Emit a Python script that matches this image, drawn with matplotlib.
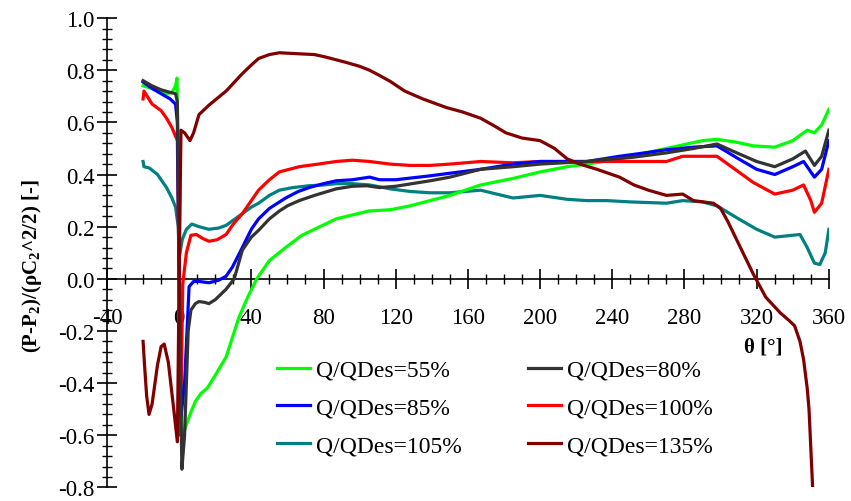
import numpy as np
import matplotlib
matplotlib.use("Agg")
import matplotlib.pyplot as plt
from matplotlib.ticker import MultipleLocator, FormatStrFormatter

plt.rcParams['font.family'] = ['Liberation Serif', 'DejaVu Serif']
plt.rcParams['axes.unicode_minus'] = False
plt.rcParams['mathtext.fontset'] = 'custom'
plt.rcParams['mathtext.rm'] = 'Liberation Serif:bold'
plt.rcParams['mathtext.bf'] = 'Liberation Serif:bold'
plt.rcParams['mathtext.it'] = 'Liberation Serif:bold'

# Q/QDes = 55%
th_55 = [-20, -15, -10, -7, -4, -2, -1.2, 1.5, 3, 6, 9, 12, 15.5, 20, 26, 33, 38, 43, 50, 59,
         68, 78, 87, 96, 105, 117, 128, 139, 150, 167, 185, 200, 215, 226, 244, 260, 270, 280,
         290, 298, 308, 318, 330, 340, 348, 352, 356, 360]
cp_55 = [0.74, 0.73, 0.72, 0.71, 0.715, 0.74, 0.77, -0.6, -0.58, -0.52, -0.47, -0.44, -0.42,
         -0.37, -0.30, -0.15, -0.07, 0.0, 0.07, 0.12, 0.167, 0.20, 0.23, 0.245, 0.26, 0.265,
         0.28, 0.30, 0.32, 0.36, 0.385, 0.41, 0.43, 0.44, 0.46, 0.485, 0.50, 0.515, 0.53, 0.535,
         0.525, 0.51, 0.505, 0.53, 0.57, 0.56, 0.59, 0.65]

# Q/QDes = 80%
th_80 = [-20, -15, -10, -5, -2, -1, 0, 1.5, 3, 5, 6.5, 9, 11, 14, 16.5, 20, 26, 30.5, 35, 40,
         44, 50, 55.5, 60, 66.5, 75, 87, 96, 104, 111, 120, 139, 150, 167, 185, 200, 226, 233,
         250, 270, 285, 298, 310, 320, 330, 340, 347, 352, 356, 360]
cp_80 = [0.76, 0.74, 0.725, 0.715, 0.71, 0.68, 0.0, -0.73, -0.6, -0.2, -0.12, -0.095, -0.087,
         -0.09, -0.095, -0.08, -0.04, 0.0, 0.11, 0.16, 0.186, 0.23, 0.26, 0.28, 0.30, 0.32,
         0.345, 0.355, 0.357, 0.35, 0.355, 0.376, 0.39, 0.42, 0.43, 0.44, 0.45, 0.456, 0.465,
         0.483, 0.50, 0.517, 0.48, 0.45, 0.43, 0.46, 0.49, 0.435, 0.47, 0.57]

# Q/QDes = 85%
th_85 = [-20, -15, -10, -5, -2, -1, 0, 1, 3, 5.5, 8, 11, 16.5, 22, 26, 29.5, 35, 40, 44, 50,
         59, 66, 72, 80, 87, 96, 105.5, 111, 120, 139, 150, 167, 185, 200, 226, 244, 260, 270,
         285, 298, 310, 320, 330, 340, 346, 352, 356, 360]
cp_85 = [0.755, 0.73, 0.71, 0.69, 0.67, 0.60, 0.0, -0.53, -0.4, -0.03, -0.01, -0.01, -0.015,
         -0.005, 0.01, 0.045, 0.12, 0.19, 0.23, 0.27, 0.31, 0.335, 0.35, 0.365, 0.376, 0.38,
         0.39, 0.38, 0.38, 0.395, 0.405, 0.42, 0.44, 0.45, 0.45, 0.47, 0.485, 0.495, 0.505,
         0.51, 0.46, 0.42, 0.40, 0.43, 0.45, 0.39, 0.42, 0.53]

# Q/QDes = 100%
th_100 = [-20, -19.5, -15, -10, -7, -4, -1, 0, 0.7, 2, 4, 6.5, 9.5, 13, 16.5, 21, 26, 30, 35,
          40, 44, 50, 55.5, 66.5, 77, 87, 96, 105.5, 117, 128, 139, 150, 167, 185, 200, 215,
          226, 244, 260, 270, 279, 290, 298, 308, 318, 330, 340, 346, 350, 352, 356, 360]
cp_100 = [0.69, 0.72, 0.67, 0.645, 0.616, 0.58, 0.53, 0.0, -0.6, -0.02, 0.1, 0.167, 0.17,
          0.155, 0.144, 0.15, 0.17, 0.21, 0.25, 0.30, 0.34, 0.38, 0.41, 0.43, 0.44, 0.45,
          0.455, 0.45, 0.44, 0.435, 0.435, 0.44, 0.45, 0.445, 0.45, 0.45, 0.45, 0.45, 0.45,
          0.45, 0.47, 0.47, 0.47, 0.42, 0.37, 0.325, 0.34, 0.36, 0.30, 0.255, 0.29, 0.42]

# Q/QDes = 105%
th_105 = [-20, -19.5, -16.5, -12, -7, -4, -2, -0.5, 0, 1.7, 4, 7, 11, 16.5, 22, 26, 30, 35,
          40, 44, 50, 55.5, 63, 72, 80, 87, 96, 105.5, 111, 117, 128, 139, 150, 167, 185, 200,
          215, 226, 237, 250, 270, 279, 290, 298, 310, 320, 330, 344, 348, 352, 355, 358, 360]
cp_105 = [0.45, 0.43, 0.425, 0.40, 0.35, 0.31, 0.275, 0.2, 0.08, 0.15, 0.19, 0.21, 0.2, 0.19,
          0.195, 0.205, 0.225, 0.25, 0.275, 0.29, 0.32, 0.34, 0.35, 0.357, 0.36, 0.365, 0.365,
          0.36, 0.353, 0.345, 0.335, 0.33, 0.33, 0.34, 0.31, 0.32, 0.305, 0.30, 0.30, 0.295,
          0.29, 0.30, 0.295, 0.28, 0.23, 0.19, 0.16, 0.17, 0.12, 0.06, 0.055, 0.10, 0.19]

# Q/QDes = 135%
th_135 = [-20, -19, -18, -16.7, -15, -12, -10, -8.3, -6, -3, -1, 0, 1, 3, 6, 8, 11, 16.5, 26,
          35, 40, 44, 50, 55.5, 66.5, 75, 81.5, 92.5, 100, 105.5, 111, 117, 125, 135, 148, 157,
          167, 175, 181, 190, 200, 208, 215, 222, 231.5, 244, 252, 260, 270, 279, 285, 296, 300,
          304, 311, 318, 325, 333, 338, 341, 344, 346, 348, 349, 350, 351]
cp_135 = [-0.24, -0.35, -0.45, -0.52, -0.48, -0.33, -0.26, -0.25, -0.32, -0.5, -0.625, 0.0,
          0.57, 0.56, 0.53, 0.56, 0.63, 0.666, 0.72, 0.787, 0.82, 0.845, 0.86, 0.867, 0.863,
          0.86, 0.85, 0.83, 0.815, 0.80, 0.78, 0.757, 0.72, 0.69, 0.657, 0.64, 0.616, 0.585,
          0.56, 0.54, 0.53, 0.50, 0.46, 0.44, 0.42, 0.39, 0.36, 0.34, 0.32, 0.325, 0.30, 0.29,
          0.27, 0.22, 0.12, 0.02, -0.07, -0.13, -0.16, -0.18, -0.24, -0.31, -0.42, -0.50,
          -0.65, -0.80]

labels = ['Q/QDes=55%', 'Q/QDes=80%', 'Q/QDes=85%', 'Q/QDes=100%', 'Q/QDes=105%', 'Q/QDes=135%']
colors = ['#00FF00', '#333333', '#0000FF', '#FF0000', '#008080', '#800000']

fig = plt.figure(figsize=(8.51, 5.02), dpi=100)
ax = fig.add_axes([0.1257, 0.027, 0.8483, 0.935])

series = [(th_105, cp_105, 4), (th_55, cp_55, 0), (th_100, cp_100, 3),
          (th_85, cp_85, 2), (th_80, cp_80, 1), (th_135, cp_135, 5)]
handles = {}
for th, cp, k in series:
    ln, = ax.plot(th, cp, color=colors[k], lw=2.3, label=labels[k], zorder=3,
                  solid_joinstyle='round')
    handles[k] = ln

ax.set_xlim(-40, 360)
ax.set_ylim(-0.8, 1.0)
ax.spines['top'].set_visible(False)
ax.spines['right'].set_visible(False)
ax.spines['bottom'].set_position(('data', 0))
for s in ['left', 'bottom']:
    ax.spines[s].set_linewidth(1.2)

ax.xaxis.set_major_locator(MultipleLocator(40))
ax.xaxis.set_minor_locator(MultipleLocator(10))
ax.yaxis.set_major_locator(MultipleLocator(0.2))
ax.yaxis.set_minor_locator(MultipleLocator(0.04))
ax.yaxis.set_major_formatter(FormatStrFormatter('%.1f'))
ax.tick_params(which='major', direction='inout', length=14, width=1.2, labelsize=16.5)
ax.tick_params(which='minor', direction='inout', length=7, width=1.0)
ax.tick_params(axis='x', which='major', pad=13)
ax.tick_params(axis='y', which='major', pad=2)

ax.text(0.909, 0.30, 'θ [°]', transform=ax.transAxes, ha='center', va='center',
        fontsize=15, fontweight='bold')
fig.text(0.038, 0.47, r'(P-P$_{2}$)/(ρC$_{2}$^2/2) [-]', rotation=90, ha='center',
         va='center', fontsize=15, fontweight='bold')

order = [0, 2, 4, 1, 3, 5]
ax.legend([handles[k] for k in order], [labels[k] for k in order], ncol=2, frameon=False,
          fontsize=17, handlelength=1.4, handletextpad=0.25, columnspacing=2.8,
          labelspacing=0.68, loc='upper left', bbox_to_anchor=(0.206, 0.318))

fig.savefig('out.png', dpi=100)
